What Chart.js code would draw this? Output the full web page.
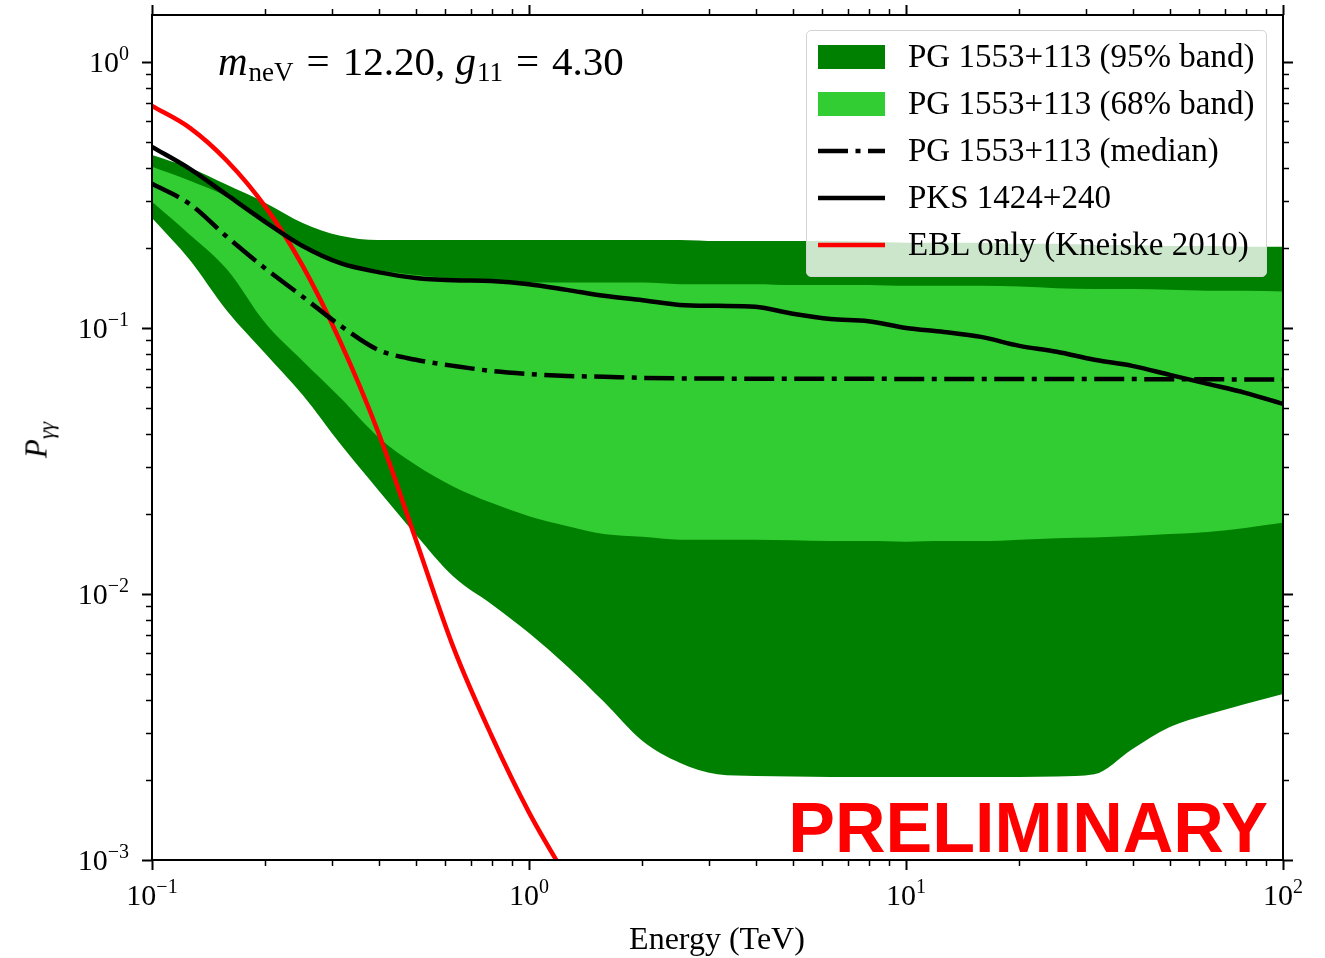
<!DOCTYPE html>
<html>
<head>
<meta charset="utf-8">
<script src="https://cdn.jsdelivr.net/npm/chart.js@4.4.0/dist/chart.umd.min.js"></script>
<style>
    html, body { margin: 0; padding: 0; background: #fff; }
    #wrap { position: relative; width: 1325px; height: 958px; overflow: hidden;
            font-family: "Liberation Serif", "DejaVu Serif", serif; color: #000; }
    #chart { position: absolute; left: 0; top: 0; }
    .lbl { position: absolute; font-size: 30px; line-height: 30px; white-space: nowrap; }
    .lbl sup { font-size: 20px; position: relative; top: -12px; vertical-align: baseline; line-height: 0; }
    #note { position: absolute; left: 218px; top: 41px; font-size: 41px; line-height: 40px; white-space: nowrap; }
    #note sub { font-size: 27px; position: relative; top: 6px; vertical-align: baseline; line-height: 0; margin-left: 1px; }
    #note .eq { margin: 0 13px; }
    #prelim { position: absolute; right: 57px; top: 793px; font-family: "Liberation Sans", Arial, sans-serif;
              font-weight: bold; font-size: 70px; line-height: 70px; color: #ff0000; }
    #xtitle { position: absolute; left: 717px; top: 922px; transform: translateX(-50%);
              font-size: 32px; line-height: 32px; white-space: nowrap; }
    #ytitle { position: absolute; left: 36px; top: 440px; transform: translate(-50%, -50%) rotate(-90deg);
              font-size: 31px; line-height: 31px; white-space: nowrap; }
    #ytitle sub { font-size: 22px; position: relative; top: 7px; vertical-align: baseline; line-height: 0; }
    #legend { position: absolute; left: 806px; top: 30px; width: 459px; height: 245px;
              border: 1.5px solid #d4d4d4; border-radius: 5px; background: rgba(255,255,255,0.8); }
    .row { position: absolute; left: 0; width: 100%; }
    .row svg { position: absolute; left: 11px; }
    .row span { position: absolute; left: 101px; font-size: 33px; line-height: 33px; white-space: nowrap; }
</style>
</head>
<body>
<div id="wrap">
    <canvas id="chart" width="1325" height="958"></canvas>
    <div id="note"><i>m</i><sub>neV</sub><span class="eq">=</span>12.20, <i>g</i><sub>11</sub><span class="eq">=</span>4.30</div>
    <div id="legend"></div>
    <div id="prelim">PRELIMINARY</div>
    <div id="xtitle">Energy (TeV)</div>
    <div id="ytitle"><i>P</i><sub><i>γγ</i></sub></div>
</div>
<script>
// energia (TeV), rejilla comun para todas las curvas
const energy = [0.1, 0.126, 0.158, 0.2, 0.251, 0.316, 0.398, 0.501, 0.631, 0.794,
    1.0, 1.26, 1.58, 2.0, 2.51, 3.16, 3.98, 5.01, 6.31, 7.94,
    10, 12.6, 15.8, 20, 25.1, 31.6, 39.8, 50.1, 63.1, 79.4, 100];

// PG 1553+113, banda 95%
const band95Upper = [0.447, 0.400, 0.345, 0.295, 0.248, 0.222, 0.214, 0.214, 0.214, 0.214,
    0.214, 0.214, 0.214, 0.214, 0.214, 0.212, 0.212, 0.212, 0.212, 0.211,
    0.209, 0.209, 0.209, 0.207, 0.207, 0.205, 0.205, 0.203, 0.203, 0.202, 0.202];
const band95Lower = [0.259, 0.180, 0.116, 0.0800, 0.0560, 0.0366, 0.0246, 0.0167, 0.0116, 0.00917,
    0.00713, 0.00536, 0.00393, 0.00280, 0.00232, 0.00210, 0.00207, 0.00206, 0.00205, 0.00205,
    0.00205, 0.00205, 0.00205, 0.00205, 0.00206, 0.00210, 0.00261, 0.00316, 0.00352, 0.00386, 0.00421];

// PG 1553+113, banda 68%
const band68Upper = [0.403, 0.357, 0.311, 0.250, 0.200, 0.177, 0.165, 0.158, 0.153, 0.150,
    0.148, 0.148, 0.148, 0.148, 0.146, 0.146, 0.146, 0.145, 0.145, 0.145,
    0.144, 0.144, 0.144, 0.143, 0.141, 0.140, 0.140, 0.139, 0.138, 0.138, 0.137];
const band68Lower = [0.298, 0.224, 0.166, 0.104, 0.0751, 0.0546, 0.0389, 0.0305, 0.0253, 0.0220,
    0.0196, 0.0180, 0.0168, 0.0164, 0.0160, 0.0160, 0.0160, 0.0159, 0.0158, 0.0158,
    0.0157, 0.0158, 0.0158, 0.0160, 0.0162, 0.0163, 0.0165, 0.0168, 0.0171, 0.0177, 0.0185];

// mediana PG 1553+113
const pgMedian = [0.348, 0.292, 0.220, 0.167, 0.131, 0.102, 0.0827, 0.0759, 0.0720, 0.0689,
    0.0671, 0.0660, 0.0655, 0.0649, 0.0646, 0.0645, 0.0644, 0.0644, 0.0644, 0.0644,
    0.0643, 0.0643, 0.0643, 0.0643, 0.0643, 0.0642, 0.0642, 0.0641, 0.0641, 0.0640, 0.0640];

// PKS 1424+240
const pksCurve = [0.479, 0.396, 0.316, 0.250, 0.203, 0.175, 0.162, 0.154, 0.151, 0.150,
    0.146, 0.139, 0.132, 0.127, 0.122, 0.121, 0.120, 0.113, 0.108, 0.106,
    0.100, 0.0966, 0.0925, 0.0856, 0.0813, 0.0759, 0.0720, 0.0666, 0.0616, 0.0570, 0.0518];

// solo EBL (Kneiske 2010), primeros puntos de la rejilla
const eblOnly = [0.683, 0.565, 0.425, 0.285, 0.171, 0.0886, 0.0406, 0.0160, 0.00627, 0.00295,
    0.00151, 0.000855];

const xTickExp = [-1, 0, 1, 2];
const yTickExp = [-3, -2, -1, 0];

const legendItems = [
    { text: 'PG 1553+113 (95% band)', kind: 'band', color: '#008000' },
    { text: 'PG 1553+113 (68% band)', kind: 'band', color: '#32cd32' },
    { text: 'PG 1553+113 (median)', kind: 'dashdot', color: '#000000' },
    { text: 'PKS 1424+240', kind: 'line', color: '#000000' },
    { text: 'EBL only (Kneiske 2010)', kind: 'line', color: '#ff0000' }
];

function toPoints(values) {
    return values.map((v, i) => ({ x: energy[i], y: v }));
}

const dashDot = [30, 7.5, 5, 7.5];
const lineW = 4.5;

function bandSet(values, color, fill, order) {
    return {
        data: toPoints(values),
        borderWidth: 0,
        pointRadius: 0,
        backgroundColor: color,
        fill: fill,
        cubicInterpolationMode: 'monotone',
        order: order
    };
}

function lineSet(values, color, dash) {
    return {
        data: toPoints(values),
        borderColor: color,
        borderWidth: lineW,
        borderDash: dash || [],
        borderCapStyle: 'butt',
        pointRadius: 0,
        fill: false,
        cubicInterpolationMode: 'monotone',
        order: 0
    };
}

//marco y marcas de los ejes hacia fuera en los cuatro lados
const frameTicks = {
    id: 'frameTicks',
    afterDraw(chart) {
        const { ctx, chartArea: a, scales } = chart;
        const xs = scales.x, ys = scales.y;
        ctx.save();
        ctx.strokeStyle = '#000';

        const decadesX = [0.1, 1, 10];
        const decadesY = [0.001, 0.01, 0.1];
        const minorX = [], minorY = [];
        decadesX.forEach(d => { for (let k = 2; k <= 9; k++) minorX.push(d * k); });
        decadesY.forEach(d => { for (let k = 2; k <= 9; k++) minorY.push(d * k); });

        function xTicks(vals, len, w) {
            ctx.lineWidth = w;
            ctx.beginPath();
            vals.forEach(v => {
                const p = Math.round(xs.getPixelForValue(v)) + 0.5;
                ctx.moveTo(p, a.bottom); ctx.lineTo(p, a.bottom + len);
                ctx.moveTo(p, a.top); ctx.lineTo(p, a.top - len);
            });
            ctx.stroke();
        }
        function yTicks(vals, len, w) {
            ctx.lineWidth = w;
            ctx.beginPath();
            vals.forEach(v => {
                const p = Math.round(ys.getPixelForValue(v)) + 0.5;
                ctx.moveTo(a.left, p); ctx.lineTo(a.left - len, p);
                ctx.moveTo(a.right, p); ctx.lineTo(a.right + len, p);
            });
            ctx.stroke();
        }
        xTicks(minorX, 6, 1.5);
        yTicks(minorY, 6, 1.5);
        xTicks(xTickExp.map(e => Math.pow(10, e)), 10, 2);
        yTicks(yTickExp.map(e => Math.pow(10, e)), 10, 2);

        ctx.lineWidth = 2;
        ctx.strokeRect(a.left, a.top, a.right - a.left, a.bottom - a.top);
        ctx.restore();
    },
    afterRender(chart) {
        if (chart.$labelsDone) return;
        chart.$labelsDone = true;
        const wrap = document.getElementById('wrap');
        const xs = chart.scales.x, ys = chart.scales.y;
        xTickExp.forEach(e => {
            const el = document.createElement('div');
            el.className = 'lbl';
            el.innerHTML = `10<sup>${e < 0 ? '\u2212' + (-e) : e}</sup>`;
            el.style.left = xs.getPixelForValue(Math.pow(10, e)) + 'px';
            el.style.top = '880px';
            el.style.transform = 'translateX(-50%)';
            wrap.appendChild(el);
        });
        yTickExp.forEach(e => {
            const el = document.createElement('div');
            el.className = 'lbl';
            el.innerHTML = `10<sup>${e < 0 ? '\u2212' + (-e) : e}</sup>`;
            el.style.right = (1325 - 129) + 'px';
            el.style.top = (ys.getPixelForValue(Math.pow(10, e)) - 15) + 'px';
            wrap.appendChild(el);
        });
    }
};

function buildLegend() {
    const box = document.getElementById('legend');
    legendItems.forEach((item, i) => {
        const row = document.createElement('div');
        row.className = 'row';
        const cy = 26 + i * 47;
        row.style.top = cy + 'px';
        let handle;
        if (item.kind === 'band') {
            handle = `<svg width="67" height="24" style="top:-12px"><rect width="67" height="24" fill="${item.color}"/></svg>`;
        } else {
            const dash = item.kind === 'dashdot' ? dashDot.join(' ') : 'none';
            handle = `<svg width="67" height="6" style="top:-3px"><line x1="0" y1="3" x2="67" y2="3" stroke="${item.color}" stroke-width="${lineW}" stroke-dasharray="${dash}"/></svg>`;
        }
        row.innerHTML = handle + `<span style="top:-17px">${item.text}</span>`;
        box.appendChild(row);
    });
}

buildLegend();

new Chart(document.getElementById('chart'), {
    type: 'line',
    data: {
        datasets: [
            bandSet(band95Upper, '#008000', '+1', 2),
            bandSet(band95Lower, '#008000', false, 2),
            bandSet(band68Upper, '#32cd32', '+1', 1),
            bandSet(band68Lower, '#32cd32', false, 1),
            lineSet(pgMedian, '#000000', dashDot),
            lineSet(pksCurve, '#000000'),
            lineSet(eblOnly, '#ff0000')
        ]
    },
    options: {
        responsive: false,
        animation: false,
        events: [],
        layout: { padding: { top: 15, right: 42, left: 0, bottom: 0 } },
        plugins: {
            legend: { display: false },
            tooltip: { enabled: false },
            filler: { propagate: false }
        },
        scales: {
            x: {
                type: 'logarithmic',
                min: 0.1,
                max: 100,
                grid: { display: false },
                border: { display: false },
                ticks: { display: false },
                afterFit(scale) { scale.height = 98; }
            },
            y: {
                type: 'logarithmic',
                min: 0.001,
                max: 1.5,
                grid: { display: false },
                border: { display: false },
                ticks: { display: false },
                afterFit(scale) { scale.width = 152; }
            }
        }
    },
    plugins: [frameTicks]
});
</script>
</body>
</html>
